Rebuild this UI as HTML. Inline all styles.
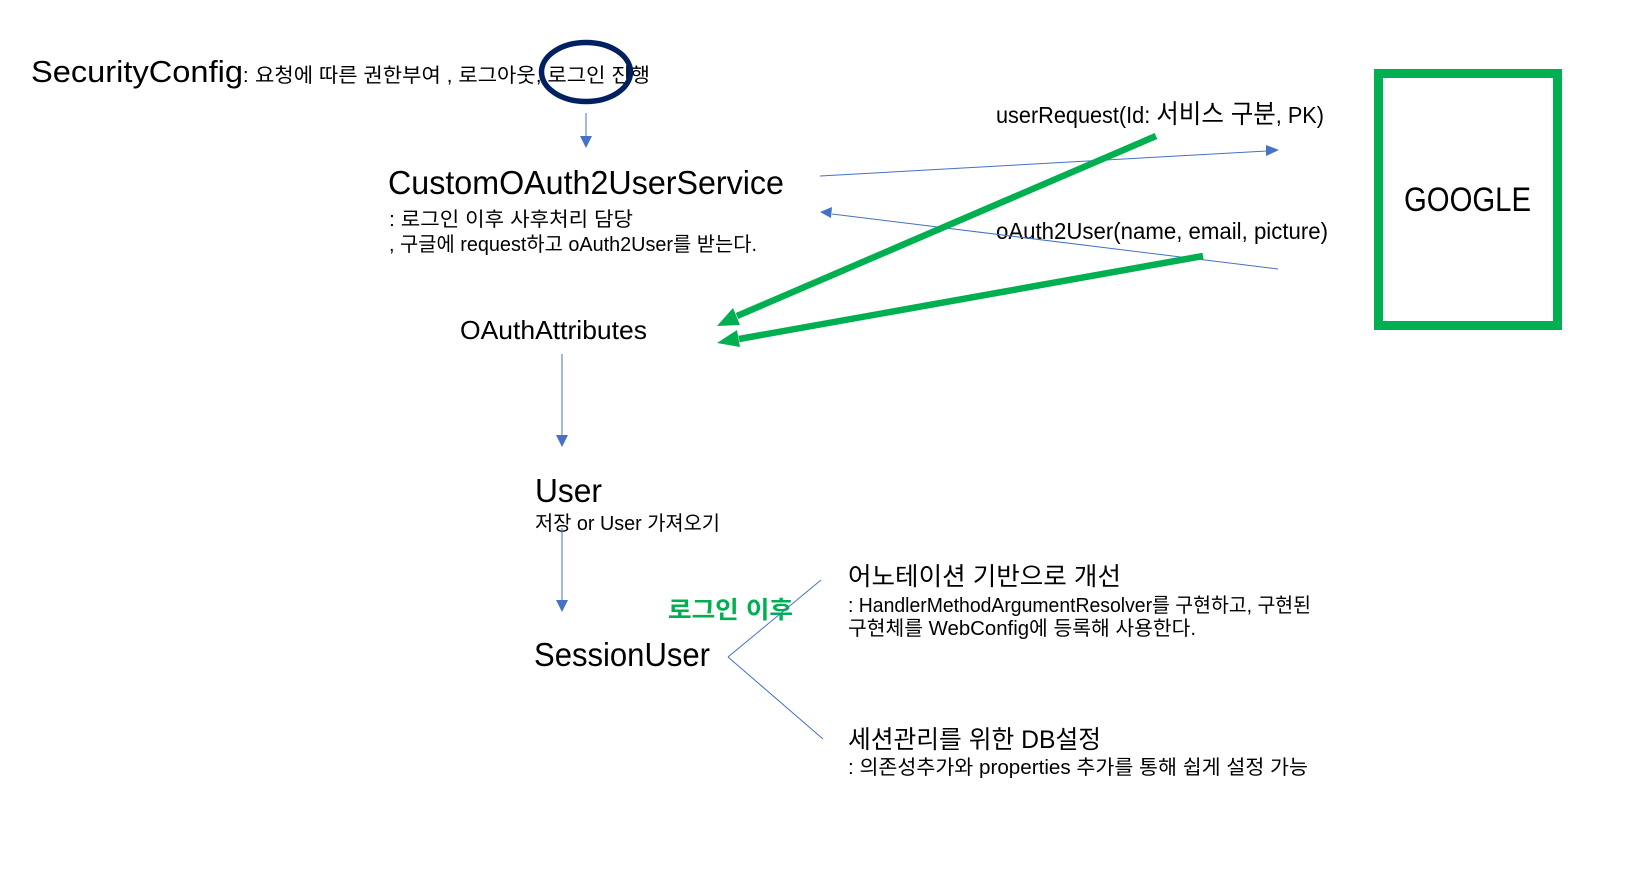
<!DOCTYPE html>
<html lang="ko">
<head>
<meta charset="utf-8">
<title>OAuth2 login flow</title>
<style>
html,body{margin:0;padding:0;background:#fff;width:1634px;height:888px;overflow:hidden}
svg{display:block}
text{font-family:"Liberation Sans","Noto Sans CJK KR","NanumGothic",sans-serif;fill:#000}
</style>
</head>
<body>
<svg width="1634" height="888" viewBox="0 0 1634 888" xmlns="http://www.w3.org/2000/svg">
<rect width="1634" height="888" fill="#fff"/>

<!-- texts -->
<text x="31" y="82" font-size="31" textLength="212" lengthAdjust="spacingAndGlyphs">SecurityConfig</text>
<text x="243" y="82" font-size="20">:</text>
<text x="255" y="82" font-size="20" textLength="395" lengthAdjust="spacingAndGlyphs">요청에 따른 권한부여 , 로그아웃, 로그인 진행</text>

<text x="388" y="194" font-size="33" textLength="396" lengthAdjust="spacingAndGlyphs">CustomOAuth2UserService</text>
<text x="389" y="226" font-size="20" textLength="244" lengthAdjust="spacingAndGlyphs">: 로그인 이후 사후처리 담당</text>
<text x="389" y="251" font-size="20" textLength="368" lengthAdjust="spacingAndGlyphs">, 구글에 request하고 oAuth2User를 받는다.</text>

<text x="460" y="339" font-size="26" textLength="187" lengthAdjust="spacingAndGlyphs">OAuthAttributes</text>

<text x="535" y="502" font-size="33" textLength="67" lengthAdjust="spacingAndGlyphs">User</text>
<text x="535" y="530" font-size="20" textLength="185" lengthAdjust="spacingAndGlyphs">저장 or User 가져오기</text>

<text x="534" y="666" font-size="33" textLength="176" lengthAdjust="spacingAndGlyphs">SessionUser</text>
<text x="668" y="618" font-size="24" font-weight="700" style="fill:#00B050" textLength="125" lengthAdjust="spacingAndGlyphs">로그인 이후</text>

<text x="848" y="585" font-size="25" textLength="273" lengthAdjust="spacingAndGlyphs">어노테이션 기반으로 개선</text>
<text x="848" y="612" font-size="20" textLength="463" lengthAdjust="spacingAndGlyphs">: HandlerMethodArgumentResolver를 구현하고, 구현된</text>
<text x="848" y="635" font-size="20" textLength="348" lengthAdjust="spacingAndGlyphs">구현체를 WebConfig에 등록해 사용한다.</text>
<text x="848" y="748" font-size="25" textLength="253" lengthAdjust="spacingAndGlyphs">세션관리를 위한 DB설정</text>
<text x="848" y="774" font-size="20" textLength="460" lengthAdjust="spacingAndGlyphs">: 의존성추가와 properties 추가를 통해 쉽게 설정 가능</text>

<text x="996" y="123" font-size="23" textLength="328" lengthAdjust="spacingAndGlyphs">userRequest(Id: <tspan font-size="26">서비스 구분</tspan>, PK)</text>
<text x="996" y="239" font-size="23" textLength="332" lengthAdjust="spacingAndGlyphs">oAuth2User(name, email, picture)</text>

<text x="1404" y="211" font-size="34" textLength="127" lengthAdjust="spacingAndGlyphs">GOOGLE</text>

<!-- google box -->
<rect x="1378.5" y="73.5" width="179" height="252" fill="none" stroke="#00B050" stroke-width="9"/>

<!-- blue connectors -->
<g stroke="#4472C4" stroke-width="1" fill="none">
<line x1="586" y1="113" x2="586" y2="137"/>
<line x1="562" y1="354" x2="562" y2="436"/>
<line x1="562" y1="528" x2="562" y2="601"/>
<line x1="820" y1="176" x2="1267" y2="151"/>
<line x1="1278" y1="269" x2="832" y2="214"/>
<line x1="821" y1="580" x2="728" y2="657"/>
<line x1="728" y1="657" x2="823" y2="739"/>
</g>
<g fill="#4472C4">
<polygon points="580,136 592,136 586,148"/>
<polygon points="556,435 568,435 562,447"/>
<polygon points="556,600 568,600 562,612"/>
<polygon points="1266,145 1266,156 1279,150"/>
<polygon points="832,207 831,218 820,212"/>
</g>

<!-- navy ellipse -->
<ellipse cx="586" cy="72" rx="44.5" ry="29.5" fill="none" stroke="#002060" stroke-width="5.5"/>

<!-- green arrows -->
<g stroke="#00B050" stroke-width="6.5" fill="none">
<line x1="1156" y1="136" x2="737" y2="316"/>
<line x1="1203" y1="256" x2="739" y2="339"/>
</g>
<g fill="#00B050">
<polygon points="717,326 740,325 733,308"/>
<polygon points="717,343 740,347 737,330"/>
</g>
</svg>
</body>
</html>
